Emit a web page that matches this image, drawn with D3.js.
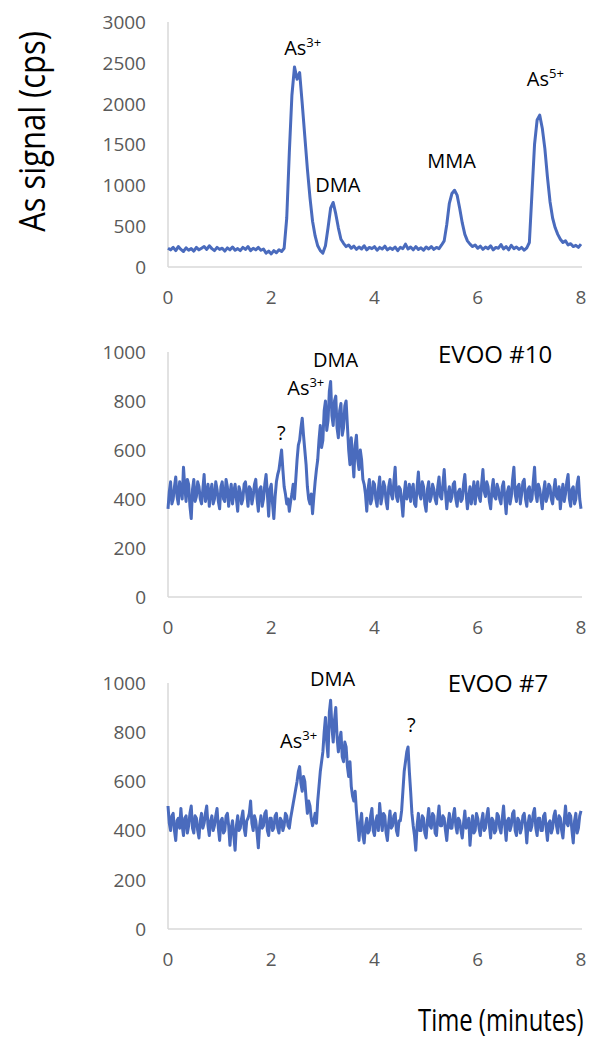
<!DOCTYPE html>
<meta charset="utf-8">
<style>
body { margin: 0; background: #fff; }
.tick-label { font: 19px "Open Sans", sans-serif; fill: #595959; }
.note { font: 20px "Open Sans", sans-serif; fill: #000; }
.sup { font-size: 13px; }
.sample { font: 24px "Open Sans", sans-serif; fill: #000; }
.axis-title { font-family: "Open Sans", sans-serif; fill: #000; }
.domain-line { stroke: #d9d9d9; stroke-width: 1.5px; }
.trace { fill: none; stroke: #4a6bbd; stroke-width: 3px; stroke-linejoin: round; }
</style>
<svg width="592" height="1040"></svg>
<script src="https://d3js.org/d3.v7.min.js"></script>
<script>

// As standard mix, cps, one reading every 0.05 min
var sigStd = [
  230, 210, 240, 200, 250, 215, 190, 235, 205, 225,
  195, 240, 210, 230, 250, 215, 260, 225, 200, 240,
  215, 230, 195, 235, 210, 245, 205, 225, 200, 240,
  215, 250, 200, 230, 210, 240, 205, 220, 170, 195,
  160, 200, 175, 210, 190, 230, 600, 1400, 2100, 2450,
  2300, 2380, 2000, 1600, 1200, 850, 560, 380, 260, 200,
  170, 260, 480, 720, 790, 650, 480, 340, 290, 250,
  270, 230, 255, 215, 245, 220, 260, 210, 240, 225,
  250, 205, 240, 220, 255, 210, 235, 215, 245, 200,
  240, 225, 280, 220, 245, 210, 250, 215, 235, 205,
  245, 220, 250, 215, 240, 225, 270, 320, 520, 780,
  900, 940, 880, 720, 540, 400, 320, 280, 250, 270,
  230, 255, 215, 245, 225, 260, 210, 240, 230, 275,
  220, 250, 210, 265, 225, 245, 215, 240, 205, 235,
  300, 900, 1500, 1800, 1860, 1700, 1450, 1100, 800, 600,
  480, 400, 340, 300, 320, 270, 285, 250, 265, 240,
  280
];

// EVOO #10, cps, one reading every 0.025 min
var sigEvoo10 = [
  360,430,470,380,400,450,490,410,380,470,440,400,530,450,390,480,460,370,320,440,
  480,390,410,470,450,400,380,440,500,390,420,460,370,430,460,380,400,470,440,390,
  360,450,470,400,390,480,450,370,420,460,380,430,460,400,350,450,430,380,400,460,
  470,420,370,450,440,380,410,460,480,400,350,440,450,370,400,460,500,420,330,440,
  460,380,320,410,470,500,520,560,600,520,450,420,380,400,350,390,420,460,400,480,
  560,620,640,690,730,660,600,540,450,400,380,420,340,410,470,520,560,640,700,610,
  640,760,800,680,720,840,880,740,700,800,820,690,650,760,790,660,690,780,800,700,
  600,540,650,570,490,620,660,560,520,600,560,480,460,420,350,440,480,380,400,470,
  460,400,370,440,490,380,410,470,450,390,360,450,480,420,400,470,530,410,390,450,
  440,390,330,420,470,400,420,460,390,440,460,380,370,450,510,420,400,470,450,380,
  350,440,470,390,410,460,440,400,380,450,490,410,400,460,520,430,360,420,450,390,
  410,460,470,400,370,430,440,390,400,460,500,420,360,410,450,380,420,470,380,440,
  470,410,390,460,520,430,410,470,450,390,360,440,480,410,400,460,440,400,380,450,
  470,400,340,430,450,380,410,480,530,420,390,450,460,380,420,470,480,400,370,440,
  450,390,400,470,530,420,390,460,440,400,360,430,470,390,410,460,450,400,380,440,
  480,410,400,450,360,420,460,390,420,470,500,400,370,440,450,380,400,460,490,400,
  360
];

// EVOO #7, cps, one reading every 0.025 min
var sigEvoo7 = [
  500,430,400,460,470,400,360,440,450,410,490,420,380,450,460,390,420,470,500,410,
  390,460,450,400,370,440,470,410,430,470,500,420,380,440,460,400,420,460,490,410,
  360,440,450,390,400,460,470,420,340,410,440,380,320,420,460,400,410,450,480,410,
  380,440,450,470,520,430,400,460,440,390,330,420,460,410,420,470,480,400,380,450,
  450,400,410,460,470,410,390,450,440,400,420,470,460,420,410,450,480,510,540,570,
  600,640,660,590,560,620,600,530,470,520,500,450,420,440,470,430,520,580,640,680,
  720,800,860,760,700,880,930,820,760,850,900,780,720,770,800,700,680,760,740,660,
  620,680,580,540,520,560,480,420,360,430,470,380,350,420,450,390,400,460,490,400,
  380,440,460,400,510,450,400,470,460,390,360,430,480,410,420,460,470,400,380,440,
  440,480,560,640,680,720,740,640,560,470,420,380,320,420,470,400,400,460,450,390,
  370,440,490,420,410,470,460,390,380,450,500,420,420,460,450,400,360,430,470,410,
  410,460,490,420,390,450,440,400,370,430,480,410,420,450,340,410,460,390,400,470,
  450,410,380,440,470,400,410,460,490,420,370,450,440,390,400,470,460,410,390,450,
  500,420,360,440,450,400,420,470,480,400,380,450,440,390,410,460,470,420,350,430,
  460,400,420,470,490,410,380,450,450,400,400,460,470,410,360,430,440,390,410,460,
  480,420,390,460,450,400,370,440,500,430,420,470,460,400,350,440,470,390,410,460,
  480
];

var xTicks = [0, 2, 4, 6, 8];
var yTicksStd = [0, 500, 1000, 1500, 2000, 2500, 3000];
var yTicksEvoo = [0, 200, 400, 600, 800, 1000];

var svg = d3.select("svg");
var color = "#4a6bbd";

var x = d3.scaleLinear().domain([0, 8]).range([168, 581]);

// panel layout: pixel top/bottom of each plot area
var panels = [
  {values: sigStd, step: 0.05, max: 3000, ticks: yTicksStd, top: 22, bottom: 267,
   notes: [
     {t: 2.25, v: 2596, text: "As", sup: "3+"},
     {t: 2.85, v: 918, text: "DMA"},
     {t: 5.02, v: 1212, text: "MMA"},
     {t: 6.95, v: 2216, text: "As", sup: "5+"}
   ]},
  {values: sigEvoo10, step: 0.025, max: 1000, ticks: yTicksEvoo, top: 352, bottom: 597,
   sample: {t: 5.23, v: 955, text: "EVOO #10"},
   notes: [
     {t: 2.81, v: 939, text: "DMA"},
     {t: 2.31, v: 824, text: "As", sup: "3+"},
     {t: 2.11, v: 641, text: "?"}
   ]},
  {values: sigEvoo7, step: 0.025, max: 1000, ticks: yTicksEvoo, top: 683, bottom: 929,
   sample: {t: 5.42, v: 963, text: "EVOO #7"},
   notes: [
     {t: 2.75, v: 988, text: "DMA"},
     {t: 2.17, v: 736, text: "As", sup: "3+"},
     {t: 4.63, v: 801, text: "?"}
   ]}
];

panels.forEach(function(p) {
  var y = d3.scaleLinear().domain([0, p.max]).range([p.bottom, p.top]);
  var g = svg.append("g");

  // axis lines (Excel style, no tick marks)
  g.append("line").attr("class", "domain-line")
    .attr("x1", x(0)).attr("x2", x(0))
    .attr("y1", y(p.max)).attr("y2", y(0));
  g.append("line").attr("class", "domain-line")
    .attr("x1", x(0)).attr("x2", x(8) + 1)
    .attr("y1", y(0)).attr("y2", y(0));

  g.selectAll(".ylab").data(p.ticks).enter().append("text")
    .attr("class", "tick-label")
    .attr("x", 146)
    .attr("y", function(d) { return y(d); })
    .attr("dy", "0.36em")
    .attr("text-anchor", "end")
    .text(function(d) { return d; });

  g.selectAll(".xlab").data(xTicks).enter().append("text")
    .attr("class", "tick-label")
    .attr("x", function(d) { return x(d); })
    .attr("y", y(0) + 37)
    .attr("text-anchor", "middle")
    .text(function(d) { return d; });

  var line = d3.line()
    .x(function(d, i) { return x(i * p.step); })
    .y(function(d) { return y(d); });

  g.append("path")
    .datum(p.values)
    .attr("class", "trace")
    .attr("stroke", color)
    .attr("d", line);

  p.notes.forEach(function(n) {
    var t = g.append("text").attr("class", "note")
      .attr("x", x(n.t)).attr("y", y(n.v));
    t.append("tspan").text(n.text);
    if (n.sup) {
      t.append("tspan").attr("class", "sup").attr("dy", -8).text(n.sup);
    }
  });

  if (p.sample) {
    g.append("text").attr("class", "sample")
      .attr("x", x(p.sample.t)).attr("y", y(p.sample.v))
      .text(p.sample.text);
  }
});

// the titles use a narrow face in the original; squeeze Open Sans horizontally
svg.append("text")
  .attr("class", "axis-title")
  .attr("transform", "translate(45,131.5) rotate(-90) scale(0.86,1)")
  .attr("text-anchor", "middle")
  .attr("font-size", 36)
  .text("As signal (cps)");

svg.append("text")
  .attr("class", "axis-title")
  .attr("transform", "translate(418,1031) scale(0.77,1)")
  .attr("font-size", 31)
  .text("Time (minutes)");

</script>
